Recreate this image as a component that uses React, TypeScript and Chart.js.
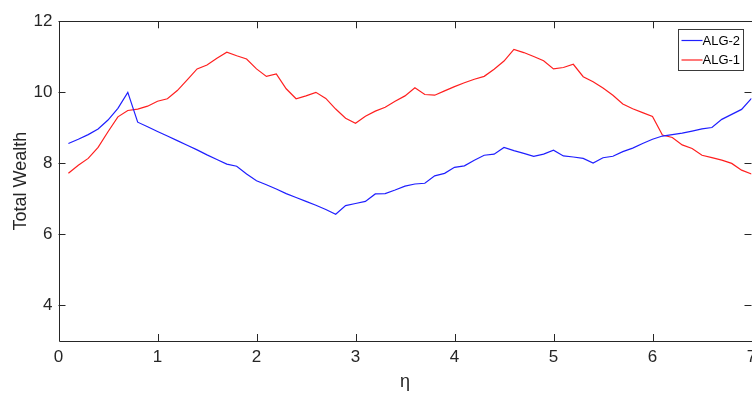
import React, { useEffect, useRef } from "react";
import { Chart, registerables } from "chart.js";

Chart.register(...registerables);

const eta = [
  0.1, 0.2, 0.3, 0.4, 0.5, 0.6, 0.7, 0.8, 0.9, 1.0,
  1.1, 1.2, 1.3, 1.4, 1.5, 1.6, 1.7, 1.8, 1.9, 2.0,
  2.1, 2.2, 2.3, 2.4, 2.5, 2.6, 2.7, 2.8, 2.9, 3.0,
  3.1, 3.2, 3.3, 3.4, 3.5, 3.6, 3.7, 3.8, 3.9, 4.0,
  4.1, 4.2, 4.3, 4.4, 4.5, 4.6, 4.7, 4.8, 4.9, 5.0,
  5.1, 5.2, 5.3, 5.4, 5.5, 5.6, 5.7, 5.8, 5.9, 6.0,
  6.1, 6.2, 6.3, 6.4, 6.5, 6.6, 6.7, 6.8, 6.9, 7.0,
];

const alg2 = [
  8.56, 8.68, 8.81, 8.97, 9.22, 9.55, 10.0, 9.16, 9.03, 8.90,
  8.77, 8.64, 8.51, 8.38, 8.24, 8.11, 7.98, 7.92, 7.70, 7.51,
  7.40, 7.28, 7.15, 7.04, 6.93, 6.82, 6.70, 6.57, 6.81, 6.87,
  6.93, 7.14, 7.15, 7.25, 7.36, 7.42, 7.44, 7.65, 7.72, 7.89,
  7.93, 8.09, 8.23, 8.26, 8.45, 8.36, 8.28, 8.20, 8.26, 8.37,
  8.21, 8.18, 8.14, 8.01, 8.16, 8.20, 8.33, 8.43, 8.56, 8.68,
  8.77, 8.81, 8.85, 8.91, 8.97, 9.01, 9.24, 9.38, 9.52, 9.83,
];

const alg1 = [
  7.72, 7.95, 8.14, 8.45, 8.89, 9.31, 9.49, 9.53, 9.61, 9.75,
  9.82, 10.05, 10.35, 10.66, 10.77, 10.96, 11.13, 11.03, 10.94, 10.66,
  10.45, 10.52, 10.10, 9.82, 9.90, 10.0, 9.83, 9.53, 9.27, 9.13,
  9.33, 9.47, 9.58, 9.75, 9.90, 10.13, 9.94, 9.92, 10.04, 10.16,
  10.27, 10.37, 10.45, 10.65, 10.88, 11.21, 11.12, 11.01, 10.89, 10.66,
  10.70, 10.79, 10.44, 10.30, 10.12, 9.92, 9.67, 9.54, 9.43, 9.32,
  8.80, 8.73, 8.52, 8.42, 8.23, 8.16, 8.09, 8.00, 7.81, 7.70,
];

const seriesLabels = ["ALG-2", "ALG-1"];
const seriesColors = ["#1f1fff", "#ff1f1f"];
const xTicks = [0, 1, 2, 3, 4, 5, 6, 7];
const yTicks = [4, 6, 8, 10, 12];
const xLabel = "η";
const yLabel = "Total Wealth";

const AXIS = "#262626";
const FONT = "'Liberation Sans', Arial, sans-serif";

const framePlugin = {
  id: "frameAndLegend",
  afterDraw(chart: any) {
    const { ctx, chartArea: a, scales } = chart;
    const L = 7;
    ctx.save();
    ctx.strokeStyle = AXIS;
    ctx.lineWidth = 1;
    ctx.beginPath();
    ctx.rect(Math.round(a.left) + 0.5, Math.round(a.top) + 0.5, Math.round(a.right - a.left), Math.round(a.bottom - a.top));
    ctx.stroke();
    ctx.beginPath();
    for (const v of xTicks) {
      const px = Math.round(scales.x.getPixelForValue(v)) + 0.5;
      ctx.moveTo(px, a.bottom);
      ctx.lineTo(px, a.bottom - L);
      ctx.moveTo(px, a.top);
      ctx.lineTo(px, a.top + L);
    }
    for (const v of yTicks) {
      const py = Math.round(scales.y.getPixelForValue(v)) + 0.5;
      ctx.moveTo(a.left, py);
      ctx.lineTo(a.left + L, py);
      ctx.moveTo(a.right, py);
      ctx.lineTo(a.right - L, py);
    }
    ctx.stroke();

    // legend box
    const bw = 65;
    const bh = 41;
    const bx = Math.round(a.right - 8.5 - bw) + 0.5;
    const by = Math.round(a.top + 8) + 0.5;
    ctx.fillStyle = "#ffffff";
    ctx.fillRect(bx, by, bw, bh);
    ctx.strokeStyle = "#3a3a3a";
    ctx.lineWidth = 1;
    ctx.strokeRect(bx, by, bw, bh);
    ctx.font = `13px ${FONT}`;
    ctx.textBaseline = "middle";
    ctx.textAlign = "left";
    chart.data.datasets.forEach((ds: any, i: number) => {
      const ly = by + 11 + i * 19.5;
      ctx.strokeStyle = ds.borderColor;
      ctx.lineWidth = 1.2;
      ctx.beginPath();
      ctx.moveTo(bx + 3, ly);
      ctx.lineTo(bx + 24, ly);
      ctx.stroke();
      ctx.fillStyle = "#000000";
      ctx.fillText(ds.label, bx + 24, ly + 0.5);
    });
    ctx.restore();
  },
};

export default function App() {
  const ref = useRef<HTMLCanvasElement | null>(null);

  useEffect(() => {
    if (!ref.current) return;
    const chart = new Chart(ref.current, {
      type: "line",
      data: {
        datasets: [alg2, alg1].map((arr, i) => ({
          label: seriesLabels[i],
          data: arr.map((y, j) => ({ x: eta[j], y })),
          borderColor: seriesColors[i],
          backgroundColor: seriesColors[i],
          borderWidth: 1.2,
          pointRadius: 0,
          tension: 0,
          fill: false,
        })),
      },
      options: {
        responsive: false,
        animation: false,
        devicePixelRatio: 1,
        layout: { padding: { left: 0, right: 8.5, top: 21.3, bottom: 0 } },
        plugins: {
          legend: { display: false },
          tooltip: { enabled: false },
        },
        scales: {
          x: {
            type: "linear",
            min: 0,
            max: 7,
            afterBuildTicks: (s: any) => {
              s.ticks = xTicks.map((v) => ({ value: v }));
            },
            afterFit: (s: any) => {
              s.height = 53;
              s.paddingLeft = 0;
              s.paddingRight = 0;
            },
            grid: { display: false, drawTicks: false },
            border: { display: false },
            ticks: {
              color: AXIS,
              font: { family: FONT, size: 17 },
              padding: 6,
              maxRotation: 0,
              autoSkip: false,
            },
            title: {
              display: true,
              text: xLabel,
              color: AXIS,
              font: { family: FONT, size: 18 },
              padding: { top: 0, bottom: 1 },
            },
          },
          y: {
            type: "linear",
            min: 3,
            max: 12,
            afterBuildTicks: (s: any) => {
              s.ticks = yTicks.map((v) => ({ value: v }));
            },
            afterFit: (s: any) => {
              s.width = 58.5;
              s.paddingTop = 0;
              s.paddingBottom = 0;
            },
            grid: { display: false, drawTicks: false },
            border: { display: false },
            ticks: {
              color: AXIS,
              font: { family: FONT, size: 17 },
              padding: 6,
              autoSkip: false,
            },
            title: {
              display: true,
              text: yLabel,
              color: AXIS,
              font: { family: FONT, size: 18 },
              padding: { top: 10, bottom: 0 },
            },
          },
        },
      },
      plugins: [framePlugin],
    });
    return () => chart.destroy();
  }, []);

  return (
    <div
      style={{
        position: "fixed",
        left: 0,
        top: 0,
        width: 752,
        height: 394,
        overflow: "hidden",
        background: "#ffffff",
      }}
    >
      <canvas ref={ref} width={760} height={394} style={{ width: 760, height: 394, display: "block" }} />
    </div>
  );
}
